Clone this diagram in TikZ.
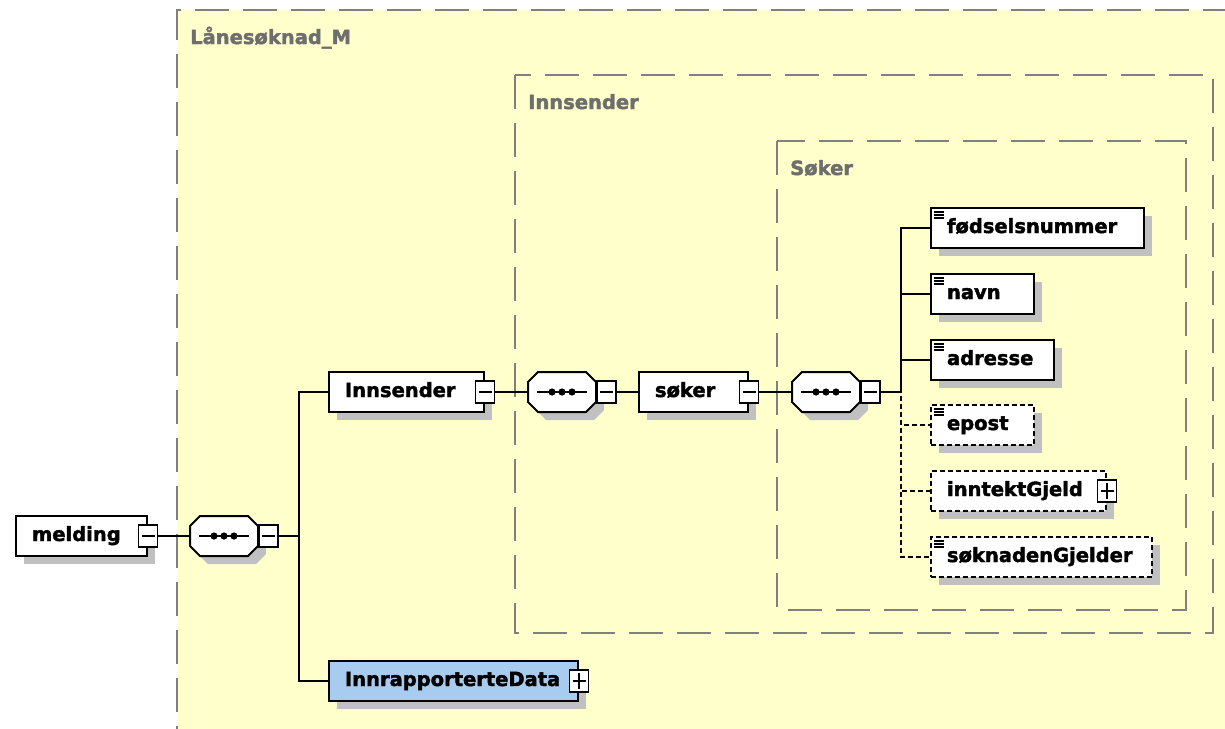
\documentclass[tikz,border=0pt]{standalone}
\usepackage{fontspec}
\newfontfamily\xsdfont{DejaVu Sans}[BoldFeatures={FakeBold=2}]
\usetikzlibrary{shadows, positioning}
\definecolor{xsdyellow}{HTML}{FFFFCC}
\definecolor{xsdblue}{HTML}{A8CCF0}
\definecolor{xsdshadow}{HTML}{C0C0C0}
\definecolor{xsdline}{HTML}{808080}
\definecolor{xsdlabel}{HTML}{6E6E6E}

\begin{document}
\begin{tikzpicture}[x=1pt, y=-1pt]
			    \tikzstyle{elem}=[draw, line width=2pt, fill=white, minimum height=40pt, inner xsep=16pt, inner ysep=0pt, align=left, anchor=west, text height=14pt, text depth=4pt, font=\xsdfont\bfseries\fontsize{19.5}{22}\selectfont, drop shadow={shadow xshift=8pt, shadow yshift=-8pt, fill=xsdshadow, opacity=1}]
			    \tikzstyle{leaf}=[elem, path picture={\foreach \k in {4,7,10} \draw[solid, line width=1.4pt] ([xshift=3pt, yshift=-\k pt]path picture bounding box.north west) -- ++(10pt,0);}]
			    \tikzstyle{optional}=[dash pattern=on 5pt off 3pt]
			    \tikzstyle{btn}=[draw, solid, line width=1.5pt, fill=white, minimum width=19pt, minimum height=22pt, inner sep=0pt]
			    \tikzstyle{btnminus}=[btn, path picture={\draw[line width=1.5pt] ([xshift=3pt]path picture bounding box.west) -- ([xshift=-3pt]path picture bounding box.east);}]
			    \tikzstyle{btnplus}=[btn, path picture={\draw[line width=1.5pt] ([xshift=3pt]path picture bounding box.west) -- ([xshift=-3pt]path picture bounding box.east); \draw[line width=1.5pt] ([yshift=3pt]path picture bounding box.south) -- ([yshift=-3pt]path picture bounding box.north);}]
			    \tikzstyle{seq}=[minimum width=68pt, minimum height=40pt, inner sep=0pt]
			    \tikzstyle{seqshape}=[draw, line width=2pt, fill=white]
			    \tikzstyle{conn}=[draw, line width=2pt]
			    \tikzstyle{group}=[draw=xsdline, line width=2pt, dash pattern=on 34pt off 14pt]
			    \tikzstyle{grouplabel}=[anchor=base west, inner sep=0pt, text=xsdlabel, font=\xsdfont\bfseries\fontsize{19.5}{22}\selectfont]
			    \useasboundingbox (0,0) rectangle (1225,728);
			    \clip (0,0) rectangle (1225,728);
			    \fill[white] (0,0) rectangle (1225,728);
			    \fill[xsdyellow] (177,10) rectangle (1260,760);
			    \draw[group] (177,760) -- (177,10) -- (1260,10);
			    \draw[group] (515,75) rectangle (1213,633);
			    \draw[group] (777,141) rectangle (1186,610);
			    \node[grouplabel] (lblmain) at (190,44) {Lånesøknad\_M};
			    \node[grouplabel] (lblinnsender) at (528,109) {Innsender};
			    \node[grouplabel] (lblsoker) at (790,175) {Søker};
			    \node[elem, text width=99pt] (melding) at (15,536) {melding};
			    \node[seq] (seqa) at (224,536) {};
			    \node[elem, text width=123pt] (innsender) at (328,392) {Innsender};
			    \node[seq] (seqb) at (562,392) {};
			    \node[elem, text width=77pt] (soker) at (638,392) {søker};
			    \node[seq] (seqc) at (826,392) {};
			    \foreach \s in {seqa, seqb, seqc} {
			        \begin{scope}[shift={(\s.center)}]
			            \fill[xsdshadow, shift={(8,8)}] (-34,-10) -- (-24,-20) -- (24,-20) -- (34,-10) -- (34,10) -- (24,20) -- (-24,20) -- (-34,10) -- cycle;
			            \draw[seqshape] (-34,-10) -- (-24,-20) -- (24,-20) -- (34,-10) -- (34,10) -- (24,20) -- (-24,20) -- (-34,10) -- cycle;
			            \draw[line width=1.6pt] (-25,0) -- (25,0);
			            \foreach \d in {-10,0,10} \fill (\d,0) circle (3.6pt);
			        \end{scope}
			    }
			    \node[btnminus] (meldingbtn) at (melding.east) {};
			    \node[btnminus, anchor=west] (seqabtn) at (seqa.east) {};
			    \node[btnminus] (innsenderbtn) at (innsender.east) {};
			    \node[btnminus, anchor=west] (seqbbtn) at (seqb.east) {};
			    \node[btnminus] (sokerbtn) at (soker.east) {};
			    \node[btnminus, anchor=west] (seqcbtn) at (seqc.east) {};
			    \node[leaf, text width=181pt] (fnr) at (930,228) {fødselsnummer};
			    \node[leaf, text width=71pt] (navn) at (930,294) {navn};
			    \node[leaf, text width=91pt] (adresse) at (930,360) {adresse};
			    \node[leaf, optional, text width=71pt] (epost) at (930,425) {epost};
			    \node[elem, optional, text width=143pt] (inntekt) at (930,491) {inntektGjeld};
			    \node[btnplus] (inntektbtn) at (inntekt.east) {};
			    \node[leaf, optional, text width=189pt] (soknad) at (930,557) {søknadenGjelder};
			    \node[elem, fill=xsdblue, text width=217pt] (rapp) at (328,681) {InnrapporterteData};
			    \node[btnplus] (rappbtn) at (rapp.east) {};
			    \draw[conn] (meldingbtn) -- (seqa);
			    \draw[conn] (seqabtn.east) -- ++(20,0) |- (innsender.west);
			    \draw[conn] (seqabtn.east) -- ++(20,0) |- (rapp.west);
			    \draw[conn] (innsenderbtn) -- (seqb);
			    \draw[conn] (seqbbtn) -- (soker);
			    \draw[conn] (sokerbtn) -- (seqc);
			    \foreach \n in {fnr, navn, adresse} \draw[conn] (seqcbtn.east) -- ++(20,0) |- (\n.west);
			    \foreach \n in {epost, inntekt, soknad} \draw[conn, optional] (seqcbtn.east) -- ++(20,0) |- (\n.west);
			\end{tikzpicture}
\end{document}
